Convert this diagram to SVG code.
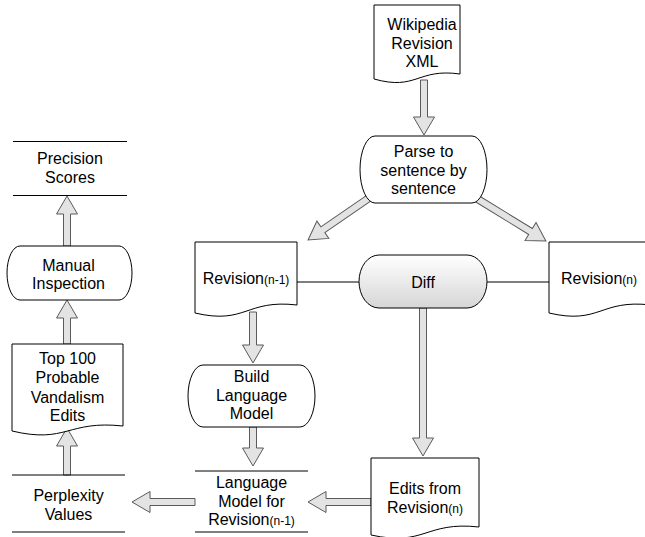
<svg xmlns="http://www.w3.org/2000/svg" width="645" height="537" viewBox="0 0 645 537">
<defs>
<linearGradient id="gDiff" x1="0" y1="0" x2="0" y2="1">
<stop offset="0" stop-color="#ffffff"/>
<stop offset="1" stop-color="#d6d6d6"/>
</linearGradient>
<style>
.shape{fill:#ffffff;stroke:#000000;stroke-width:1}
.ln{stroke:#000000;stroke-width:1;fill:none}
.arr{fill:#e3e3e3;stroke:#5a5a5a;stroke-width:1;stroke-linejoin:miter}
text{font-family:"Liberation Sans",Arial,Helvetica,sans-serif;font-size:16px;fill:#000000;text-anchor:middle}
.sub{font-size:12px}
</style>
</defs>
<rect width="645" height="537" fill="#ffffff"/>

<g id="connectors">
<line class="ln" x1="297" y1="282" x2="359" y2="282"/>
<line class="ln" x1="487" y1="282" x2="549" y2="282"/>
<polygon class="arr" transform="translate(424,80) rotate(90)" points="0,-3.5 37,-3.5 37,-10.5 55,0 37,10.5 37,3.5 0,3.5"/>
<polygon class="arr" transform="translate(369,198) rotate(145.45)" points="0,-3.5 56,-3.5 56,-10.5 74,0 56,10.5 56,3.5 0,3.5"/>
<polygon class="arr" transform="translate(476,198) rotate(31.56)" points="0,-3.5 64,-3.5 64,-10.5 82,0 64,10.5 64,3.5 0,3.5"/>
<polygon class="arr" transform="translate(253,312) rotate(90)" points="0,-3.5 33,-3.5 33,-10.5 51,0 33,10.5 33,3.5 0,3.5"/>
<polygon class="arr" transform="translate(253,427) rotate(90)" points="0,-3.5 21,-3.5 21,-10.5 39,0 21,10.5 21,3.5 0,3.5"/>
<polygon class="arr" transform="translate(423,308) rotate(90)" points="0,-3.5 130,-3.5 130,-10.5 148,0 130,10.5 130,3.5 0,3.5"/>
<polygon class="arr" transform="translate(371,502) rotate(180)" points="0,-3.5 45,-3.5 45,-10.5 63,0 45,10.5 45,3.5 0,3.5"/>
<polygon class="arr" transform="translate(195,502) rotate(180)" points="0,-3.5 45,-3.5 45,-10.5 63,0 45,10.5 45,3.5 0,3.5"/>
<polygon class="arr" transform="translate(67,475) rotate(-90)" points="0,-3.5 29,-3.5 29,-10.5 47,0 29,10.5 29,3.5 0,3.5"/>
<polygon class="arr" transform="translate(67,344) rotate(-90)" points="0,-3.5 26,-3.5 26,-10.5 44,0 26,10.5 26,3.5 0,3.5"/>
<polygon class="arr" transform="translate(67,246) rotate(-90)" points="0,-3.5 32,-3.5 32,-10.5 50,0 32,10.5 32,3.5 0,3.5"/>
</g>

<g id="wikipedia-xml">
<path class="shape" d="M374,5 H460 V74 C417,68 417,91 374,79 Z"/>
<text x="422" y="30">Wikipedia</text>
<text x="422" y="48.5">Revision</text>
<text x="422" y="67">XML</text>
</g>

<g id="parse">
<path class="shape" d="M375,136 H472 A15,33.5 0 0 1 472,203 H375 A15,33.5 0 0 1 375,136 Z"/>
<text x="423.5" y="157">Parse to</text>
<text x="423.5" y="175.5">sentence by</text>
<text x="423.5" y="194">sentence</text>
</g>

<g id="revision-prev">
<path class="shape" d="M195,242 H297 V305 C246,299 246,325 195,313 Z"/>
<text x="246" y="284">Revision<tspan class="sub">(n-1)</tspan></text>
</g>

<g id="diff">
<path d="M379,255 H467 A20,26.5 0 0 1 467,308 H379 A20,26.5 0 0 1 379,255 Z" fill="url(#gDiff)" stroke="#000" stroke-width="1"/>
<text x="423" y="288">Diff</text>
</g>

<g id="revision-n">
<path class="shape" d="M549,242 H651 V305 C600,299 600,325 549,313 Z"/>
<text x="599" y="284">Revision<tspan class="sub">(n)</tspan></text>
</g>

<g id="build-lm">
<path class="shape" d="M203,365 H300 A15,31 0 0 1 300,427 H203 A15,31 0 0 1 203,365 Z"/>
<text x="251.5" y="382">Build</text>
<text x="251.5" y="400.5">Language</text>
<text x="251.5" y="419">Model</text>
</g>

<g id="lm-for-revision">
<line class="ln" x1="195" y1="471" x2="308" y2="471"/>
<line class="ln" x1="195" y1="532" x2="308" y2="532"/>
<text x="251.5" y="488">Language</text>
<text x="251.5" y="507">Model for</text>
<text x="251.5" y="525">Revision<tspan class="sub">(n-1)</tspan></text>
</g>

<g id="edits">
<path class="shape" d="M371,458 H479 V527 C425,521 425,547 371,535 Z"/>
<text x="425" y="494">Edits from</text>
<text x="425" y="513">Revision<tspan class="sub">(n)</tspan></text>
</g>

<g id="perplexity">
<line class="ln" x1="12" y1="475" x2="125" y2="475"/>
<line class="ln" x1="12" y1="532" x2="125" y2="532"/>
<text x="68.5" y="501">Perplexity</text>
<text x="68.5" y="520">Values</text>
</g>

<g id="top100">
<path class="shape" d="M12,344 H123 V426 C67,420 67,444 12,431 Z"/>
<text x="67.5" y="364">Top 100</text>
<text x="67.5" y="383">Probable</text>
<text x="67.5" y="402.5">Vandalism</text>
<text x="67.5" y="421">Edits</text>
</g>

<g id="manual">
<path class="shape" d="M20,246 H119 A13,27 0 0 1 119,300 H20 A13,27 0 0 1 20,246 Z"/>
<text x="68.5" y="270.5">Manual</text>
<text x="68.5" y="288.5">Inspection</text>
</g>

<g id="precision">
<line class="ln" x1="13" y1="141.5" x2="127" y2="141.5"/>
<line class="ln" x1="13" y1="195.5" x2="127" y2="195.5"/>
<text x="70" y="164">Precision</text>
<text x="70" y="183">Scores</text>
</g>
</svg>
